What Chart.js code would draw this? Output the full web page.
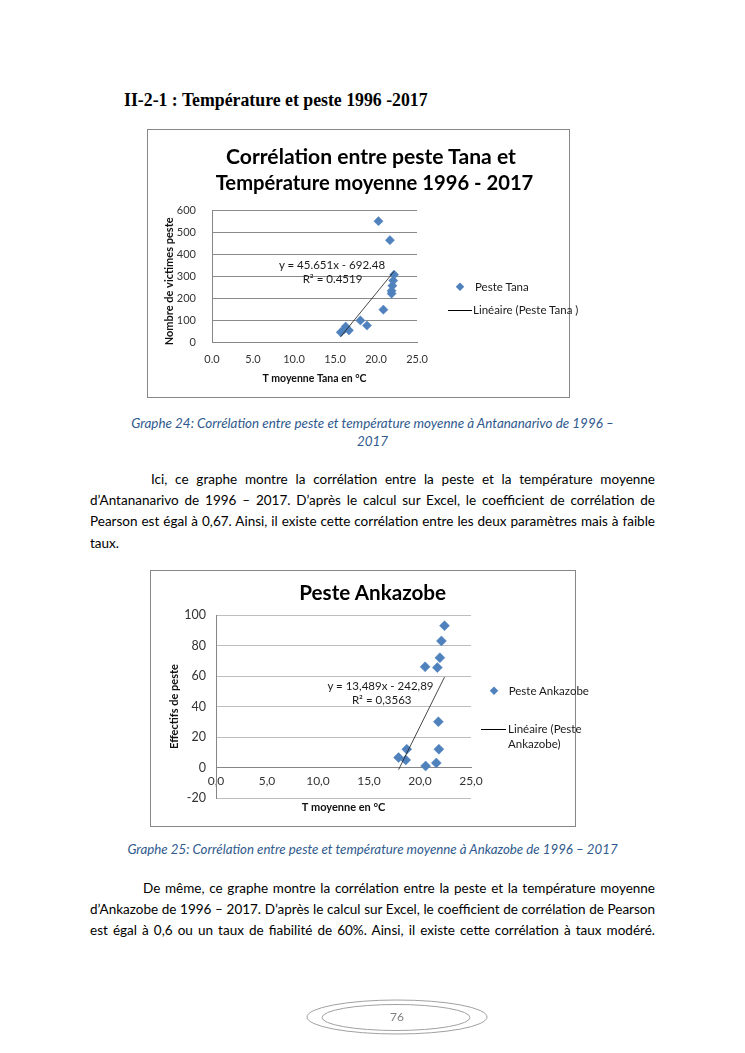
<!DOCTYPE html>
<html><head><meta charset="utf-8">
<script src="https://cdn.jsdelivr.net/npm/chart.js@4.4.1/dist/chart.umd.min.js"></script>
<style>
html,body{margin:0;padding:0;background:#fff;}
body{width:745px;height:1053px;position:relative;overflow:hidden;font-family:Lato,"Open Sans",sans-serif;color:#000;}
.t{position:absolute;white-space:nowrap;line-height:1.2;}
.box{position:absolute;border:1px solid #878787;background:#fff;}
.box canvas{position:absolute;left:0;top:0;}
.jl{position:absolute;text-align:justify;text-align-last:justify;line-height:1.2;font-size:13.8px;}
.ll{position:absolute;white-space:nowrap;line-height:1.2;font-size:13.8px;}
.cap{font-style:italic;color:#2F5A8E;}
.leg{font-size:11.5px;color:#1a1a1a;}
.dia{position:absolute;width:6.4px;height:6.4px;background:#4F81BD;transform:translate(-50%,-50%) rotate(45deg);}
.lgl{position:absolute;height:0;border-top:1px solid #000;}
</style></head>
<body>

<div class="t" id="heading" style="font-family:'Liberation Serif',serif;font-weight:bold;font-size:15px;" data-left="124" data-cy="101" data-fitw="304">II-2-1 : Température et peste 1996 -2017</div>

<!-- Chart 1 -->
<div class="box" style="left:147px;top:129px;width:421px;height:267px;">
  <canvas id="c1" width="421" height="267" style="width:421px;height:267px;"></canvas>
</div>
<div class="t" id="t1a" style="font-weight:bold;font-size:20px;" data-cx="371" data-cy="156" data-fitw="290">Corrélation entre peste Tana et</div>
<div class="t" id="t1b" style="font-weight:bold;font-size:20px;" data-cx="374.5" data-cy="182" data-fitw="318">Température moyenne 1996 - 2017</div>
<div class="t leg" data-cx="332" data-cy="265">y = 45.651x - 692.48</div>
<div class="t leg" data-cx="332.5" data-cy="279">R² = 0.4519</div>
<div class="dia" style="left:460px;top:287px;"></div>
<div class="t leg" data-left="475" data-cy="287">Peste Tana</div>
<div class="lgl" style="left:448px;top:310px;width:24px;"></div>
<div class="t leg" data-left="473" data-cy="310">Linéaire (Peste Tana )</div>

<div class="t cap" id="cap1" style="font-size:12.5px;" data-cx="372.5" data-cy="423" data-fitw="483">Graphe 24: Corrélation entre peste et température moyenne à Antananarivo de 1996 –</div>
<div class="t cap" style="font-size:12.5px;" data-cx="372.5" data-cy="441" data-samefont="cap1">2017</div>

<div class="jl p1" data-left="151" data-right="655" data-cy="479">Ici, ce graphe montre la corrélation entre la peste et la température moyenne</div>
<div class="jl p1" data-left="90" data-right="655" data-cy="500">d’Antananarivo de 1996 – 2017. D’après le calcul sur Excel, le coefficient de corrélation de</div>
<div class="jl p1" data-left="90" data-right="655" data-cy="521">Pearson est égal à 0,67. Ainsi, il existe cette corrélation entre les deux paramètres mais à faible</div>
<div class="ll p1" data-left="90" data-cy="543">taux.</div>

<!-- Chart 2 -->
<div class="box" style="left:150px;top:570px;width:424px;height:255px;">
  <canvas id="c2" width="424" height="255" style="width:424px;height:255px;"></canvas>
</div>
<div class="t" id="t2" style="font-weight:bold;font-size:20px;" data-cx="372.7" data-cy="592" data-fitw="147">Peste Ankazobe</div>
<div class="t leg" data-cx="380.5" data-cy="686">y = 13,489x - 242,89</div>
<div class="t leg" data-cx="381.7" data-cy="700">R² = 0,3563</div>
<div class="dia" style="left:493.7px;top:691.3px;"></div>
<div class="t leg" data-left="508.7" data-cy="691">Peste Ankazobe</div>
<div class="lgl" style="left:481px;top:729px;width:25px;"></div>
<div class="t leg" data-left="508" data-cy="729">Linéaire (Peste</div>
<div class="t leg" data-left="508" data-cy="744">Ankazobe)</div>

<div class="t cap" id="cap2" style="font-size:12.5px;" data-cx="372.5" data-cy="850" data-fitw="491">Graphe 25: Corrélation entre peste et température moyenne à Ankazobe de 1996 – 2017</div>

<div class="jl p1" data-left="143" data-right="655" data-cy="888">De même, ce graphe montre la corrélation entre la peste et la température moyenne</div>
<div class="jl p1" data-left="90" data-right="655" data-cy="909">d’Ankazobe de 1996 – 2017. D’après le calcul sur Excel, le coefficient de corrélation de Pearson</div>
<div class="jl p1" data-left="90" data-right="655" data-cy="930">est égal à 0,6 ou un taux de fiabilité de 60%. Ainsi, il existe cette corrélation à taux modéré.</div>

<svg style="position:absolute;left:0;top:0;" width="745" height="1053">
  <ellipse cx="397" cy="1017" rx="90" ry="17" fill="none" stroke="#a0a0a0" stroke-width="1"/>
  <ellipse cx="396" cy="1017.5" rx="74" ry="13" fill="none" stroke="#a0a0a0" stroke-width="1"/>
</svg>
<div class="t" style="font-size:12px;color:#7f7f7f;" data-cx="397" data-cy="1017">76</div>

<script>
// ---------- Data ----------
const tanaTemp  = [15.7, 16.1, 16.3, 16.7, 18.1, 18.9, 20.3, 20.9, 21.7, 21.9, 21.9, 22.0, 22.1, 22.2];
const tanaCases = [44,   57,   70,   53,   98,   75,   549,  147,  463,  220,  233,  256,  279,  306];
const tanaSlope = 45.651, tanaIntercept = -692.48;
const xTicks = [0, 5, 10, 15, 20, 25];

const ankTemp  = [22.4, 22.1, 21.95, 21.7, 20.5, 21.8, 21.85, 21.6, 20.55, 18.7, 17.9, 18.6];
const ankCases = [93,   83,   72,    65.5, 66,   30,   12,    3,    1,     12,   6.5,  5];
const ankSlope = 13.489, ankIntercept = -242.89;

// ---------- Text layout helpers ----------
function measure(el){
  const cs = getComputedStyle(el);
  const s = document.createElement('span');
  s.style.position='absolute'; s.style.visibility='hidden'; s.style.whiteSpace='nowrap';
  s.style.fontFamily=cs.fontFamily; s.style.fontSize=cs.fontSize; s.style.fontWeight=cs.fontWeight;
  s.style.fontStyle=cs.fontStyle; s.style.letterSpacing=cs.letterSpacing;
  s.textContent = el.textContent;
  document.body.appendChild(s);
  const r = s.getBoundingClientRect();
  s.remove();
  return r.width;
}
const all = Array.from(document.querySelectorAll('[data-cy]'));
all.filter(e=>e.dataset.fitw).forEach(e=>{
  const base = parseFloat(getComputedStyle(e).fontSize);
  const w = measure(e);
  e.style.fontSize = (base * parseFloat(e.dataset.fitw) / w) + 'px';
});
all.filter(e=>e.dataset.samefont).forEach(e=>{
  e.style.fontSize = document.getElementById(e.dataset.samefont).style.fontSize;
});
const bodyLines = Array.from(document.querySelectorAll('.jl'));
let scale = 1;
bodyLines.forEach(e=>{
  const target = parseFloat(e.dataset.right) - parseFloat(e.dataset.left);
  const w = measure(e);
  scale = Math.min(scale, target / w * 0.995);
});
document.querySelectorAll('.jl,.ll').forEach(e=>{ e.style.fontSize = (13.8*scale)+'px'; });
all.forEach(e=>{
  const r = e.getBoundingClientRect();
  e.style.top = (parseFloat(e.dataset.cy) - r.height/2) + 'px';
  if (e.dataset.right) {
    e.style.left = e.dataset.left + 'px';
    e.style.width = (parseFloat(e.dataset.right) - parseFloat(e.dataset.left)) + 'px';
  } else if (e.dataset.left) {
    e.style.left = e.dataset.left + 'px';
  } else {
    const w = e.getBoundingClientRect().width;
    e.style.left = (parseFloat(e.dataset.cx) - w/2) + 'px';
  }
});

// ---------- Charts ----------
Chart.defaults.font.family = 'Lato, "Open Sans", sans-serif';
Chart.defaults.color = '#333';

function pts(xs, ys){ return xs.map((x,i)=>({x:x, y:ys[i]})); }
function trend(xs, a, b){
  const lo = Math.min(...xs), hi = Math.max(...xs);
  return [{x:lo, y:a*lo+b}, {x:hi, y:a*hi+b}];
}

new Chart(document.getElementById('c1'), {
  type: 'scatter',
  data: { datasets: [
    { label: 'Linéaire (Peste Tana )', type: 'line', data: trend(tanaTemp, tanaSlope, tanaIntercept),
      borderColor: '#1a1a1a', borderWidth: 0.8, pointRadius: 0, fill: false, order: 0 },
    { label: 'Peste Tana', data: pts(tanaTemp, tanaCases), pointStyle: 'rectRot', pointRadius: 4.6,
      backgroundColor: '#4F81BD', borderColor: '#4F81BD', borderWidth: 0.5, order: 1 }
  ]},
  options: {
    responsive: false, animation: false, events: [],
    layout: { padding: { top: 80, right: 152, left: 0, bottom: 0 } },
    plugins: { legend: { display: false }, tooltip: { enabled: false } },
    scales: {
      x: { type: 'linear', min: 0, max: 25,
        afterBuildTicks: s => { s.ticks = xTicks.map(v=>({value:v})); },
        ticks: { callback: v => Number(v).toFixed(1), padding: 11, font: { size: 11 }, maxRotation: 0 },
        grid: { display: false, drawTicks: false },
        border: { display: true, color: '#868686' },
        title: { display: true, text: 'T moyenne Tana en °C', font: { size: 10.5, weight: 'bold' }, color: '#111', padding: { top: 0, bottom: 12 } },
        afterFit: s => { s.height = 55; } },
      y: { min: 0, max: 600,
        ticks: { stepSize: 100, padding: 16, font: { size: 11 } },
        grid: { color: '#8a8a8a', drawTicks: false },
        border: { display: true, color: '#868686' },
        title: { display: true, text: 'Nombre de victimes peste\u00a0\u00a0\u00a0\u00a0', font: { size: 11, weight: 'bold' }, color: '#111', padding: { top: 15, bottom: 0 } },
        afterFit: s => { s.width = 64; } }
    }
  }
});

new Chart(document.getElementById('c2'), {
  type: 'scatter',
  data: { datasets: [
    { label: 'Linéaire (Peste Ankazobe)', type: 'line', data: trend(ankTemp, ankSlope, ankIntercept),
      borderColor: '#1a1a1a', borderWidth: 0.8, pointRadius: 0, fill: false, order: 0 },
    { label: 'Peste Ankazobe', data: pts(ankTemp, ankCases), pointStyle: 'rectRot', pointRadius: 5,
      backgroundColor: '#4F81BD', borderColor: '#4F81BD', borderWidth: 0.5, order: 1 }
  ]},
  options: {
    responsive: false, animation: false, events: [],
    layout: { padding: { top: 44, right: 104, left: 0, bottom: 28 } },
    plugins: { legend: { display: false }, tooltip: { enabled: false } },
    scales: {
      x: { type: 'linear', min: 0, max: 25, position: { y: 0 },
        afterBuildTicks: s => { s.ticks = xTicks.map(v=>({value:v})); },
        ticks: { callback: v => Number(v).toFixed(1).replace('.', ','), padding: 6, font: { size: 12 }, maxRotation: 0 },
        grid: { display: false, drawTicks: false },
        border: { display: true, color: '#868686' },
        title: { display: true, text: 'T moyenne en °C', font: { size: 11, weight: 'bold' }, color: '#111', padding: { top: 0, bottom: -18.3 } },
        afterFit: s => { s.height = 28; } },
      y: { min: -20, max: 100,
        ticks: { stepSize: 20, padding: 10, font: { size: 12.5 } },
        grid: { color: c => c.tick && c.tick.value === 0 ? '#868686' : '#bdbdbd', drawTicks: false },
        border: { display: true, color: '#868686' },
        title: { display: true, text: 'Effectifs de peste', font: { size: 11, weight: 'bold' }, color: '#111', padding: { top: 17, bottom: 0 } },
        afterFit: s => { s.width = 65; } }
    }
  }
});
</script>
</body></html>
